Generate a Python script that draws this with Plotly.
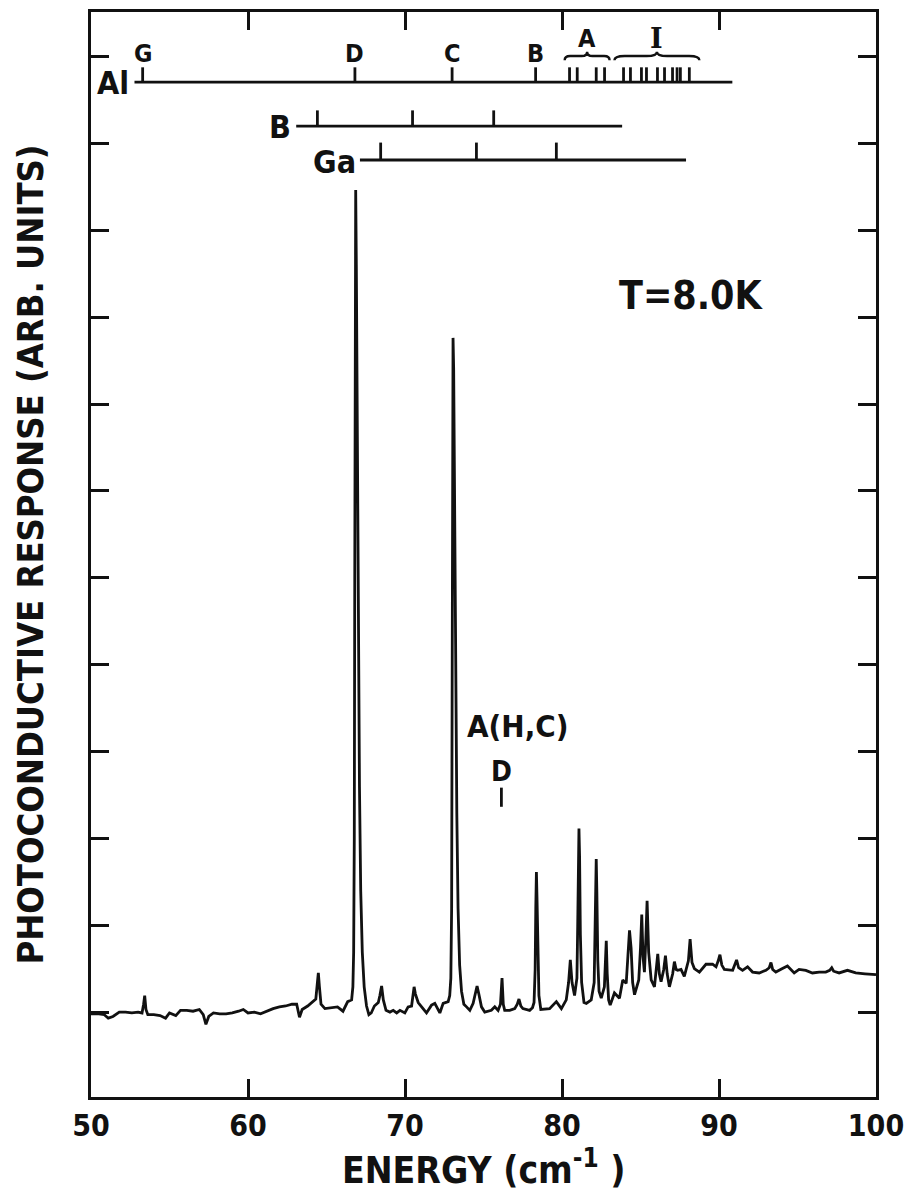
import plotly.graph_objects as go

# ---------------- data ----------------
energy = [
    50.00, 50.50, 50.85, 51.10, 51.40, 51.80, 52.20, 52.60, 53.00, 53.25, 53.35, 53.42, 53.50, 53.62,
    54.00, 54.40, 54.75, 55.00, 55.40, 55.70, 56.10, 56.50, 56.90, 57.15, 57.32, 57.50, 57.80,
    58.20, 58.60, 59.00, 59.40, 59.70, 60.00, 60.40, 60.80, 61.20, 61.60, 62.00, 62.40, 62.80,
    63.10, 63.28, 63.45, 63.80, 64.10, 64.32, 64.42, 64.48, 64.55, 64.65, 64.90, 65.30, 65.70,
    66.05, 66.35, 66.60, 66.68, 66.73, 66.77, 66.80, 66.83, 66.86, 66.90, 66.95, 67.02, 67.10,
    67.18, 67.28, 67.40, 67.55, 67.70, 67.85, 68.05, 68.20, 68.30, 68.40, 68.51, 68.62, 68.79,
    69.04, 69.25, 69.47, 69.68, 69.99, 70.20, 70.42, 70.52, 70.58, 70.66, 70.84, 71.06, 71.37,
    71.69, 71.90, 72.22, 72.43, 72.75, 72.85, 72.92, 72.97, 73.00, 73.03, 73.06, 73.10, 73.15,
    73.22, 73.30, 73.38, 73.48, 73.60, 73.75, 73.92, 74.13, 74.34, 74.50, 74.59, 74.70, 74.87,
    75.08, 75.50, 75.72, 75.93, 76.08, 76.18, 76.26, 76.35, 76.67, 76.99, 77.15, 77.26, 77.38,
    77.51, 77.94, 78.12, 78.22, 78.29, 78.33, 78.37, 78.41, 78.46, 78.53, 78.65, 79.21, 79.64,
    79.96, 80.27, 80.42, 80.53, 80.64, 80.80, 80.95, 81.00, 81.04, 81.08, 81.12, 81.17, 81.25,
    81.40, 81.55, 81.86, 82.05, 82.10, 82.15, 82.18, 82.22, 82.28, 82.36, 82.50, 82.70, 82.78,
    82.82, 82.88, 82.97, 83.07, 83.34, 83.66, 83.87, 84.09, 84.20, 84.30, 84.40, 84.50, 84.62,
    84.89, 85.00, 85.08, 85.16, 85.25, 85.34, 85.42, 85.52, 85.68, 85.89, 86.00, 86.10, 86.20,
    86.31, 86.48, 86.59, 86.70, 86.84, 87.05, 87.16, 87.27, 87.37, 87.58, 87.79, 88.05, 88.16,
    88.28, 88.43, 88.75, 89.17, 89.59, 89.81, 89.95, 90.06, 90.18, 90.34, 90.87, 91.02, 91.12,
    91.25, 91.50, 91.82, 92.14, 92.56, 92.99, 93.20, 93.31, 93.42, 93.62, 94.04, 94.36, 94.79,
    95.10, 95.53, 95.95, 96.38, 96.80, 97.05, 97.18, 97.30, 97.65, 98.18, 98.71, 99.30, 100.00,
]
response = [
    -0.01, -0.01, -0.02, -0.06, -0.04, 0.01, 0.01, 0.00, 0.01, 0.00, 0.10, 0.20, 0.04, -0.02,
    -0.02, -0.03, -0.06, 0.00, -0.03, 0.03, 0.03, 0.02, 0.04, -0.02, -0.13, -0.04, 0.00,
    -0.01, -0.01, 0.00, 0.02, 0.04, 0.00, 0.01, -0.01, 0.02, 0.05, 0.07, 0.08, 0.10,
    0.10, -0.05, 0.04, 0.08, 0.12, 0.16, 0.35, 0.46, 0.30, 0.10, 0.05, 0.06, 0.07,
    0.02, 0.13, 0.15, 0.30, 0.70, 2.00, 5.00, 8.80, 9.46, 8.60, 7.00, 4.60, 2.60,
    1.40, 0.70, 0.30, 0.08, -0.02, 0.00, 0.08, 0.10, 0.12, 0.20, 0.31, 0.15, 0.03,
    0.01, 0.03, 0.00, 0.03, 0.00, 0.07, 0.08, 0.25, 0.30, 0.22, 0.12, 0.07, 0.00,
    0.09, 0.11, 0.00, 0.11, 0.13, 0.20, 0.40, 1.20, 3.50, 6.50, 7.76, 7.40, 6.00,
    4.00, 2.30, 1.20, 0.55, 0.25, 0.10, 0.07, 0.03, 0.11, 0.25, 0.31, 0.22, 0.07,
    0.01, 0.03, 0.07, 0.03, 0.10, 0.40, 0.10, 0.03, 0.03, 0.05, 0.10, 0.16, 0.08,
    0.05, 0.03, 0.06, 0.12, 0.50, 1.20, 1.62, 1.30, 0.60, 0.20, 0.04, 0.05, 0.13,
    0.05, 0.15, 0.35, 0.61, 0.35, 0.20, 0.40, 1.00, 1.80, 2.12, 1.80, 0.90, 0.35,
    0.12, 0.11, 0.15, 0.35, 1.00, 1.60, 1.77, 1.40, 0.60, 0.25, 0.17, 0.30, 0.65,
    0.83, 0.45, 0.15, 0.09, 0.23, 0.17, 0.38, 0.34, 0.70, 0.95, 0.75, 0.35, 0.21,
    0.38, 0.75, 1.13, 0.65, 0.47, 0.85, 1.29, 0.70, 0.38, 0.30, 0.50, 0.68, 0.45,
    0.36, 0.50, 0.66, 0.45, 0.30, 0.45, 0.59, 0.50, 0.49, 0.50, 0.42, 0.60, 0.85,
    0.58, 0.51, 0.47, 0.56, 0.56, 0.53, 0.60, 0.67, 0.55, 0.50, 0.49, 0.55, 0.61,
    0.52, 0.49, 0.53, 0.47, 0.46, 0.49, 0.52, 0.58, 0.50, 0.47, 0.51, 0.54, 0.46,
    0.50, 0.49, 0.46, 0.47, 0.47, 0.49, 0.52, 0.48, 0.46, 0.49, 0.46, 0.45, 0.44,
]

x_ticks = [50, 60, 70, 80, 90, 100]
x_tick_labels = ["50", "60", "70", "80", "90", "100"]

# energy-level diagrams (cm^-1)
al_span = [52.77, 90.85]
al_named = [53.29, 66.81, 73.00, 78.32]
al_named_labels = ["G", "D", "C", "B"]
al_A = [80.48, 80.97, 82.18, 82.71]
al_I = [83.92, 84.36, 85.06, 85.38, 86.08, 86.53, 87.04, 87.33, 87.54, 88.11]
b_span = [63.07, 83.83]
b_lines = [64.42, 70.48, 75.65]
ga_span = [67.13, 87.90]
ga_lines = [68.45, 74.55, 79.64]
level_y = {"Al": 10.70, "B": 10.195, "Ga": 9.805}
brace_A = [80.17, 83.03]
brace_I = [83.34, 88.75]

ahc_D_line = 76.14

# ---------------- figure ----------------
FONT = "DejaVu Sans Condensed, DejaVu Sans, sans-serif"
INK = "#111111"

fig = go.Figure()
fig.add_trace(go.Scatter(x=energy, y=response, mode="lines",
                         line=dict(color=INK, width=2.8), hoverinfo="skip",
                         showlegend=False))

shapes = []
annotations = []
LW = 2.8


def hline(x0, x1, y):
    shapes.append(dict(type="line", xref="x", yref="y", x0=x0, x1=x1, y0=y, y1=y,
                       line=dict(color=INK, width=LW)))


def vtick(x, y, h):
    shapes.append(dict(type="line", xref="x", yref="y", x0=x, x1=x, y0=y, y1=y + h,
                       line=dict(color=INK, width=LW)))


def brace(x0, x1, yb, h):
    xm = (x0 + x1) / 2
    d = (x1 - x0) * 0.12
    ym = yb + h * 0.5
    path = (f"M {x0},{yb} Q {x0},{ym} {x0 + d},{ym} L {xm - d},{ym} "
            f"Q {xm},{ym} {xm},{yb + h} Q {xm},{ym} {xm + d},{ym} "
            f"L {x1 - d},{ym} Q {x1},{ym} {x1},{yb}")
    shapes.append(dict(type="path", xref="x", yref="y", path=path,
                       line=dict(color=INK, width=2.4)))


def txt(x, y, s, size, xanchor="center", yanchor="middle", family=FONT,
        xref="x", yref="y", textangle=0, xshift=0, yshift=0):
    annotations.append(dict(x=x, y=y, xref=xref, yref=yref, text=s, showarrow=False,
                            xanchor=xanchor, yanchor=yanchor, textangle=textangle,
                            xshift=xshift, yshift=yshift,
                            font=dict(family=family, size=size, color=INK, weight="bold")))


# Al
ya = level_y["Al"]
hline(al_span[0], al_span[1], ya)
for xv, lab in zip(al_named, al_named_labels):
    vtick(xv, ya, 0.17)
    txt(xv, ya + 0.17, lab, 25, yanchor="bottom", yshift=-3)
for xv in al_A + al_I:
    vtick(xv, ya, 0.17)
brace(brace_A[0], brace_A[1], 10.95, 0.10)
brace(brace_I[0], brace_I[1], 10.95, 0.10)
txt((brace_A[0] + brace_A[1]) / 2, 11.20, "A", 25)
txt((brace_I[0] + brace_I[1]) / 2, 11.20, "I", 27, family="DejaVu Serif, Liberation Serif, serif")
txt(al_span[0], ya, "Al", 32, xanchor="right", xshift=-3, yshift=-1)

# B
yb = level_y["B"]
hline(b_span[0], b_span[1], yb)
for xv in b_lines:
    vtick(xv, yb, 0.18)
txt(b_span[0], yb, "B", 32, xanchor="right", xshift=-3, yshift=-1)

# Ga
yg = level_y["Ga"]
hline(ga_span[0], ga_span[1], yg)
for xv in ga_lines:
    vtick(xv, yg, 0.2)
txt(ga_span[0], yg, "Ga", 32, xanchor="right", xshift=-2, yshift=-2)

# other labels
txt(88.24, 8.25, "T=8.0K", 39)
txt(77.18, 3.30, "A(H,C)", 31)
txt(ahc_D_line, 2.78, "D", 28)
vtick(ahc_D_line, 2.37, 0.22)

# axis titles
txt(0.5, -0.0654, "ENERGY (cm<sup>-1</sup> )", 37, xref="paper", yref="paper")
txt(-0.0777, 0.5, "PHOTOCONDUCTIVE RESPONSE (ARB. UNITS)", 36, xref="paper", yref="paper",
    textangle=-90)

fig.update_layout(
    width=906, height=1193,
    margin=dict(l=91, r=30, t=12, b=96, autoexpand=False),
    paper_bgcolor="white", plot_bgcolor="white",
    shapes=shapes, annotations=annotations,
    showlegend=False,
)
fig.update_xaxes(range=[50, 100], tickvals=x_ticks, ticktext=x_tick_labels,
                 ticks="inside", ticklen=18, tickwidth=2.6, tickcolor=INK,
                 showline=True, linewidth=3, linecolor=INK, mirror="ticks",
                 showgrid=False, zeroline=False, ticklabelstandoff=0,
                 ticklabeloverflow="allow", automargin=False,
                 tickfont=dict(family=FONT, size=30, color=INK, weight="bold"))
fig.update_yaxes(range=[-0.966, 11.506], tick0=0, dtick=1,
                 ticks="inside", ticklen=18, tickwidth=2.6, tickcolor=INK,
                 showline=True, linewidth=3, linecolor=INK, mirror="ticks",
                 showgrid=False, zeroline=False, showticklabels=False, automargin=False)

fig.write_html("out.html", config={"displayModeBar": False},
               post_script="document.body.style.margin='0';document.body.style.padding='0';")
